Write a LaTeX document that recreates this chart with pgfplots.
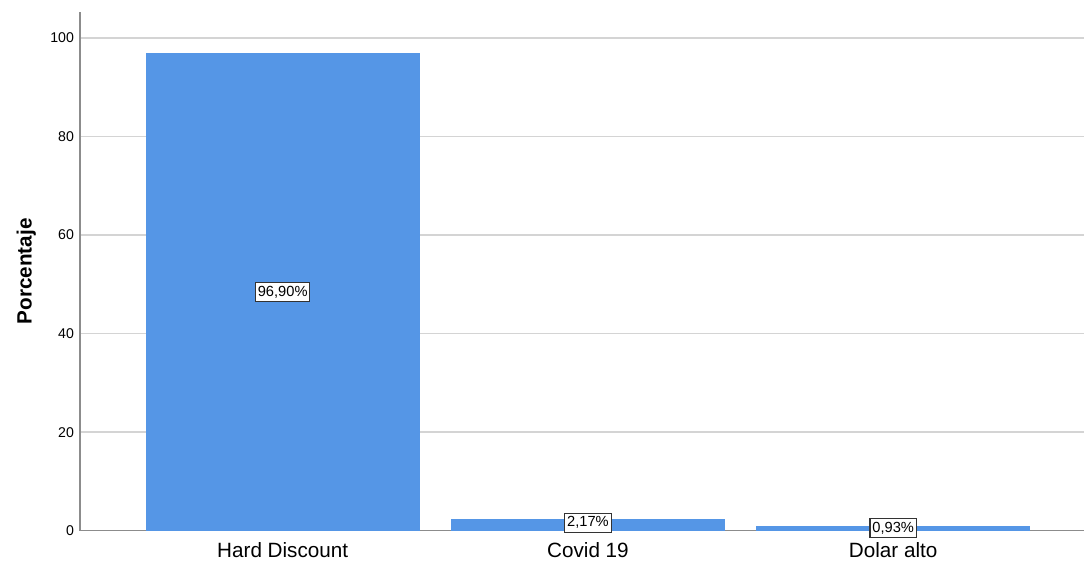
\documentclass[border=0pt]{standalone}
\usepackage{fontspec}
\setmainfont{Liberation Sans}
\usepackage{pgfplots}
\pgfplotsset{compat=1.18}
\definecolor{barblue}{HTML}{5596E6}
\definecolor{gridgray}{HTML}{D4D4D4}
\definecolor{axgray}{HTML}{8C8C8C}
\begin{document}
\begin{tikzpicture}
\begin{axis}[
    name=ax,
    scale only axis,
    width=753pt, height=389pt,
    xmin=-0.664, xmax=2.625,
    ymin=0, ymax=105.3,
    axis lines*=left,
    axis line style={axgray, line width=1.2pt},
    xtick=data,
    xticklabels={Hard Discount, Covid 19, Dolar alto},
    ytick={0,20,40,60,80,100},
    major tick length=0pt,
    ymajorgrids=true,
    grid style={gridgray, line width=1.2pt},
    tick label style={font=\fontsize{10.6}{12}\selectfont},
    xticklabel style={font=\fontsize{15.5}{17}\selectfont, yshift=-5pt},
    yticklabel style={xshift=-1pt},
    /pgf/number format/assume math mode=true,
    ylabel={\textbf{Porcentaje}},
    ylabel style={font=\fontsize{15.5}{17}\selectfont, yshift=4pt},
    clip=false,
]
\addplot[ybar, bar width=204.75pt, fill=barblue, draw=barblue, line width=0pt] coordinates {
    (0, 96.90)
    (1, 2.17)
    (2, 0.93)
};
\tikzset{lbl/.style={draw=black!80, fill=white, line width=0.8pt, inner xsep=1.8pt, inner ysep=2.6pt, font=\fontsize{11}{12}\selectfont}}
\node[lbl] at (axis cs:0,48.45) {96,90\%};
\node[lbl] at (axis cs:1,1.6) {2,17\%};
\node[lbl] at (axis cs:2,0.465) {0,93\%};
\end{axis}
\pgfresetboundingbox
\path ([xshift=-60pt,yshift=-24pt]ax.south west) rectangle ([yshift=9pt]ax.north east);
\end{tikzpicture}
\end{document}
